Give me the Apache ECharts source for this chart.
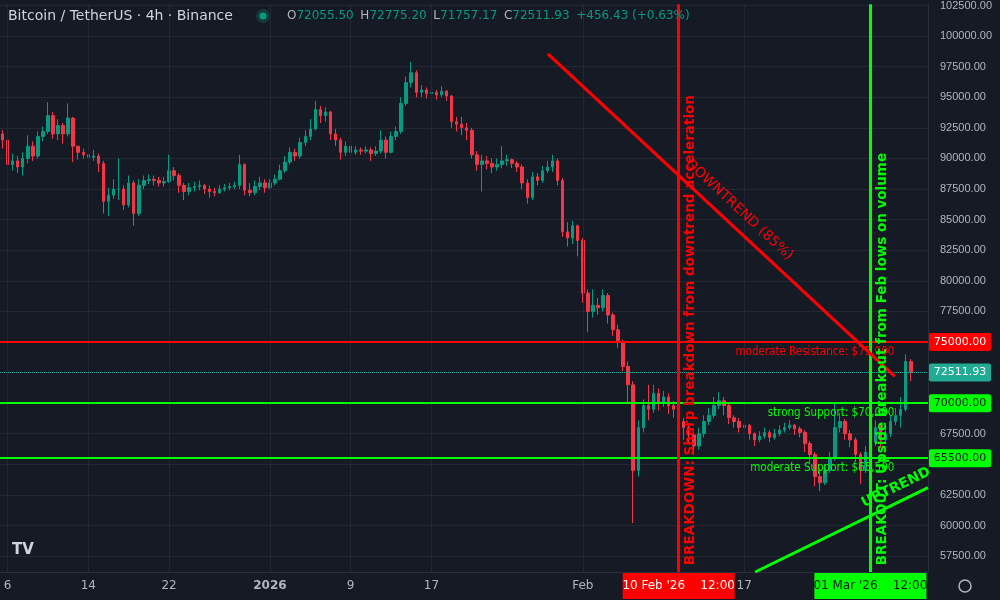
<!DOCTYPE html>
<html><head><meta charset="utf-8">
<script src="https://cdn.jsdelivr.net/npm/echarts@6/dist/echarts.min.js"></script>
<style>html,body{margin:0;padding:0;background:#161a25}#c{width:1000px;height:600px}</style>
</head><body><div id="c"></div>
<script>
// 12h candles starting 5 Dec 2025 12:00, values in thousands USD: [close, low, high]
const firstOpen = 92.0;
const candles = [
[91.5,90.8,92.3],
[89.5,88.3,91.6],[89.8,89.0,90.4],[89.3,88.8,90.2],[90.0,88.6,90.5],[91.0,89.6,91.9],[90.2,89.8,91.4],
[91.8,90.0,92.2],[92.2,91.4,92.6],[93.5,92.0,94.6],[92.0,91.6,93.8],[92.7,91.5,93.2],[92.0,91.2,92.9],
[93.3,91.8,94.5],[91.0,89.7,93.4],[90.5,89.9,91.0],[90.3,90.0,90.8],[90.1,89.6,90.6],[90.2,89.8,90.7],
[89.6,88.9,90.4],[86.5,85.5,89.8],[87.0,85.3,87.6],[87.5,86.7,88.3],[87.5,86.6,90.0],[86.2,85.8,87.8],
[88.0,86.0,88.6],[85.5,84.5,88.2],[87.8,85.3,88.3],[88.2,87.5,88.6],[88.3,87.9,88.7],[88.2,87.8,88.6],
[88.0,87.7,88.5],[88.1,87.7,88.5],[89.0,88.0,90.3],[88.6,88.2,89.3],[87.8,87.2,88.8],[87.3,86.6,88.0],
[87.6,87.0,88.0],[87.7,87.3,88.1],[87.8,87.4,88.2],[87.5,87.1,87.9],[87.3,86.8,87.8],[87.2,86.9,87.6],
[87.5,87.1,87.8],[87.6,87.3,87.9],[87.7,87.4,88.0],[87.8,87.5,88.1],[89.5,87.5,90.3],[87.4,87.0,89.6],
[87.2,86.9,88.0],[87.7,87.0,88.2],[88.0,87.4,88.5],[87.6,87.2,88.3],
[88.0,87.5,88.3],[88.3,87.8,88.7],[89.0,88.2,89.5],[89.7,88.8,90.2],[90.5,89.5,90.9],[90.2,89.8,90.8],
[91.3,90.0,91.7],[91.8,91.0,92.3],[92.4,91.5,93.2],[94.0,92.3,94.7],[93.5,92.9,94.3],[93.8,93.0,94.2],
[92.0,91.5,93.9],[91.5,91.0,92.4],[90.5,89.9,91.7],[91.0,90.2,91.4],[90.5,90.1,91.2],[90.7,90.3,91.0],
[90.6,90.3,90.9],[90.7,90.4,91.0],[90.4,89.8,90.9],[90.6,90.2,91.0],[91.5,90.4,92.3],[90.5,90.0,91.8],
[91.8,90.4,92.2],[92.2,91.5,92.6],[94.5,92.0,95.0],[96.2,94.3,96.7],[97.0,95.8,97.9],[95.4,95.0,97.2],
[95.6,95.0,96.0],[95.3,94.9,95.8],[95.4,95.0,95.9],[95.2,94.8,95.6],[95.5,95.0,95.9],[95.1,94.7,95.6],
[93.0,92.5,95.2],[92.8,92.2,93.4],[92.5,91.9,93.4],[92.3,91.5,92.9],[90.3,90.0,92.5],[89.5,89.0,90.6],
[89.8,87.3,90.3],[89.6,89.1,90.2],[89.3,88.8,90.0],[89.5,89.0,90.0],[89.8,89.2,91.0],[89.9,89.4,90.3],
[89.6,89.2,90.0],[89.3,88.9,89.8],[88.0,87.5,89.5],[86.8,86.3,88.3],[88.5,86.6,88.9],[88.2,87.8,88.8],
[89.0,88.0,89.4],[89.3,88.8,89.8],[89.8,88.9,90.3],[88.2,87.8,90.0],[84.0,83.6,88.4],[83.5,82.8,84.8],
[84.5,83.0,84.9],[83.3,82.0,84.6],
[79.0,78.2,83.5],[77.5,75.8,79.3],[78.0,77.0,79.3],[77.8,77.2,78.6],[78.8,77.5,79.3],[77.2,76.5,79.0],
[76.0,75.5,77.4],[75.0,74.5,76.4],[73.0,72.6,75.2],[71.5,70.1,73.4],[64.5,60.2,71.8],[68.0,64.0,68.6],
[69.8,67.6,70.3],[69.5,68.6,71.5],[70.8,69.2,71.5],[70.0,69.4,71.2],[70.5,69.7,71.0],[69.8,69.1,70.8],
[69.5,68.8,70.2],[68.5,67.8,69.7],[68.0,67.0,68.8],[67.4,66.7,68.3],[66.5,65.8,67.5],[67.5,66.2,68.0],
[68.5,67.2,69.0],[69.0,68.2,69.6],[69.8,68.8,70.5],[70.2,69.5,70.9],[69.8,69.0,70.5],[68.8,68.3,70.0],
[68.5,68.0,69.0],[68.0,67.6,68.8],[68.2,67.7,68.6],[67.5,67.0,68.3],[67.0,66.5,67.6],[67.3,66.8,67.7],
[67.6,67.1,68.0],[67.2,66.8,67.8],[67.5,67.0,67.9],[67.8,67.3,68.2],[68.0,67.6,68.4],[68.2,67.8,68.6],
[67.9,67.4,68.3],[67.6,67.2,68.1],[66.7,66.0,67.8],[65.8,65.0,66.9],[64.0,63.2,66.0],[63.5,62.8,64.5],
[64.5,63.3,65.0],[65.5,64.3,66.0],[68.0,65.3,70.0],[68.5,67.6,69.2],[67.5,67.0,68.7],[67.0,66.4,67.8],
[65.8,65.2,67.2],[64.5,63.4,66.0],
[66.0,64.3,66.5],[66.8,65.8,67.3],[68.0,66.5,68.6],[67.0,66.3,68.3],[67.5,66.8,68.2],[68.5,67.2,69.0],
[69.0,68.2,69.6],[69.5,68.0,70.5],[73.4,69.3,74.0],[72.5,71.8,73.6]
];
const yTicks = [57500,60000,62500,65000,67500,70000,72500,75000,77500,80000,82500,85000,87500,90000,92500,95000,97500,100000,102500];
const xTickDates = [[2025,11,6],[2025,11,14],[2025,11,22],[2026,0,1],[2026,0,9],[2026,0,17],[2026,1,1],[2026,1,17]];
const xTickLabels = ['6','14','22','2026','9','17','Feb','17'];
const levels = {resistance:75000, strongSupport:70000, modSupport:65500, last:72511.93};
const redV = [2026,1,10,12], greenV = [2026,2,1,12];
const downTrend = [[2026,0,28,13,98540],[2026,2,3,22,72190]];
const upTrend = [[2026,1,18,2,56200],[2026,2,7,5,63100]];

const H = 3600e3;
const t0 = new Date(2025,11,5,12).getTime();
const data = [];
let prev = firstOpen;
candles.forEach((c,i)=>{
  data.push([t0 + i*12*H, prev*1000, c[0]*1000, c[1]*1000, c[2]*1000]);
  prev = c[0];
});
const d = a => new Date(a[0],a[1],a[2],a[3]||0).getTime();
const RED='#ff0000', GREEN='#00ff00', UP='#089981', DN='#f23645';

const chart = echarts.init(document.getElementById('c'));
chart.setOption({
  backgroundColor:'#161a25', animation:false,
  grid:{left:0,right:72,top:0,bottom:28},
  xAxis:{type:'time', min:new Date(2025,11,5,6).getTime(), max:new Date(2026,2,7,5).getTime(),
    axisLine:{lineStyle:{color:'#2a2e39'}}, axisTick:{show:false}, splitLine:{show:false}, axisLabel:{show:false}},
  yAxis:{type:'value', position:'right', min:56200, max:102600,
    axisLine:{show:true,lineStyle:{color:'#2a2e39'}},
    axisTick:{show:false, customValues:yTicks},
    splitLine:{show:true,lineStyle:{color:'#232733'}},
    axisLabel:{customValues:yTicks, color:'#b2b5be', fontSize:11, margin:12, formatter:v=>v.toFixed(2)}},
  series:[{type:'candlestick', data:data, barWidth:3,
    itemStyle:{color:UP,color0:DN,borderColor:UP,borderColor0:DN,borderWidth:1},
    markLine:{symbol:'none', silent:true, animation:false, label:{show:false},
      data:xTickDates.map(a=>({xAxis:d(a), lineStyle:{color:'#232733',type:'solid',width:1}})).concat([
        {yAxis:levels.last, lineStyle:{color:'#22ab94',type:'dotted',width:1}},
        {yAxis:levels.resistance, lineStyle:{color:RED,type:'solid',width:2}},
        {yAxis:levels.strongSupport, lineStyle:{color:GREEN,type:'solid',width:2}},
        {yAxis:levels.modSupport, lineStyle:{color:GREEN,type:'solid',width:2}},
        {xAxis:d(redV), lineStyle:{color:RED,type:'solid',width:3}},
        {xAxis:d(greenV), lineStyle:{color:GREEN,type:'solid',width:3}},
        [{coord:[d(downTrend[0]),downTrend[0][4]], lineStyle:{color:RED,type:'solid',width:3}},{coord:[d(downTrend[1]),downTrend[1][4]]}],
        [{coord:[d(upTrend[0]),upTrend[0][4]], lineStyle:{color:GREEN,type:'solid',width:3}},{coord:[d(upTrend[1]),upTrend[1][4]]}]
      ])}}]
});

const P = (t,v)=>chart.convertToPixel({gridIndex:0},[t,v]);
const g = [];
const sans = '"DejaVu Sans", sans-serif';
const cond = '"DejaVu Sans Condensed", "Liberation Sans", sans-serif';
// x tick labels
xTickDates.forEach((a,i)=>{const p=P(d(a),60000); g.push({type:'text',z:50,x:p[0],y:586,style:{text:xTickLabels[i],fill:'#b2b5be',font:(xTickLabels[i]==='2026'?'bold ':'')+'12px '+sans,align:'center',verticalAlign:'middle'}});});
// header
g.push({type:'text',z:50,x:8,y:16,style:{text:'Bitcoin / TetherUS · 4h · Binance',fill:'#d1d4dc',font:'14px '+sans,verticalAlign:'middle'}});
g.push({type:'circle',z:50,shape:{cx:263,cy:16,r:7},style:{fill:'rgba(8,153,129,0.25)'}});
g.push({type:'circle',z:50,shape:{cx:263,cy:16,r:3.5},style:{fill:UP}});
g.push({type:'text',z:50,x:287,y:16,style:{verticalAlign:'middle',rich:{l:{fill:'#b2b5be',font:'12px '+sans},v:{fill:UP,font:'12px '+sans}},
  text:'{l|O}{v|72055.50}  {l|H}{v|72775.20}  {l|L}{v|71757.17}  {l|C}{v|72511.93}  {v|+456.43 (+0.63%)}'}});
// level labels
const tEnd = new Date(2026,2,3,21).getTime();
const lab = (txt,v,col)=>{const p=P(tEnd,v); g.push({type:'text',z:50,x:p[0],y:p[1]+4,style:{text:txt,fill:col,font:'11.5px '+cond,align:'right',verticalAlign:'top'}});};
lab('moderate Resistance: $75,000',levels.resistance,RED);
lab('strong Support: $70,000',levels.strongSupport,GREEN);
lab('moderate Support: $65,500',levels.modSupport,GREEN);
// vertical texts
const pr = P(d(redV),57000), pg = P(d(greenV),57000);
g.push({type:'text',z:50,x:pr[0]+12,y:pr[1]+3,rotation:Math.PI/2,style:{text:'BREAKDOWN: Sharp breakdown from downtrend acceleration',fill:RED,font:'bold 13.5px '+sans,align:'left',verticalAlign:'middle'}});
g.push({type:'text',z:50,x:pg[0]+12,y:pg[1]+3,rotation:Math.PI/2,style:{text:'BREAKOUT: Upside breakout from Feb lows on volume',fill:GREEN,font:'bold 13.5px '+sans,align:'left',verticalAlign:'middle'}});
// trend labels
const a=P(d(downTrend[0]),downTrend[0][4]), b=P(d(downTrend[1]),downTrend[1][4]);
const angD=Math.atan2(b[1]-a[1],b[0]-a[0]);
const tD=0.52, nx=Math.sin(angD), ny=-Math.cos(angD);
g.push({type:'text',z:50,x:a[0]+(b[0]-a[0])*tD+nx*16,y:a[1]+(b[1]-a[1])*tD+ny*16,rotation:-angD,style:{text:'DOWNTREND (85%)',fill:RED,font:'14px '+sans,align:'center',verticalAlign:'middle'}});
const c1=P(d(upTrend[0]),upTrend[0][4]), c2=P(d(upTrend[1]),upTrend[1][4]);
const angU=Math.atan2(c2[1]-c1[1],c2[0]-c1[0]);
g.push({type:'text',z:50,x:c1[0]+(c2[0]-c1[0])*0.85+Math.sin(angU)*14,y:c1[1]+(c2[1]-c1[1])*0.85-Math.cos(angU)*14,rotation:-angU,style:{text:'UPTREND',fill:GREEN,font:'bold 14px '+sans,align:'center',verticalAlign:'middle'}});
// price tags
const tag=(v,bg,fg,txt)=>{const p=P(tEnd,v); g.push({type:'group',z:100,children:[
  {type:'rect',z:100,shape:{x:929,y:p[1]-9,width:62,height:18,r:2},style:{fill:bg}},
  {type:'text',z:101,x:960,y:p[1],style:{text:txt,fill:fg,font:'11px '+sans,align:'center',verticalAlign:'middle'}}]});};
tag(levels.resistance,RED,'#ffffff','75000.00');
tag(levels.last,'#22ab94','#ffffff','72511.93');
tag(levels.strongSupport,GREEN,'#131722','70000.00');
tag(levels.modSupport,GREEN,'#131722','65500.00');
// date tags
const dtag=(t,bg,fg,txt)=>{const p=P(t,60000); g.push({type:'group',z:100,children:[
  {type:'rect',z:100,shape:{x:p[0]-56,y:573,width:112,height:26},style:{fill:bg}},
  {type:'text',z:101,x:p[0],y:586,style:{text:txt,fill:fg,font:'12px '+sans,align:'center',verticalAlign:'middle'}}]});};
dtag(d(redV),RED,'#ffffff',"10 Feb '26    12:00");
dtag(d(greenV),GREEN,'#131722',"01 Mar '26    12:00");
// logo & gear
g.push({type:'text',z:50,x:12,y:543,style:{text:'TV',fill:'#d1d4dc',font:'bold 15px '+sans}});
g.push({type:'circle',z:50,shape:{cx:965,cy:586,r:6},style:{fill:'none',stroke:'#b2b5be',lineWidth:1.5}});
chart.setOption({graphic:g});
</script></body></html>
